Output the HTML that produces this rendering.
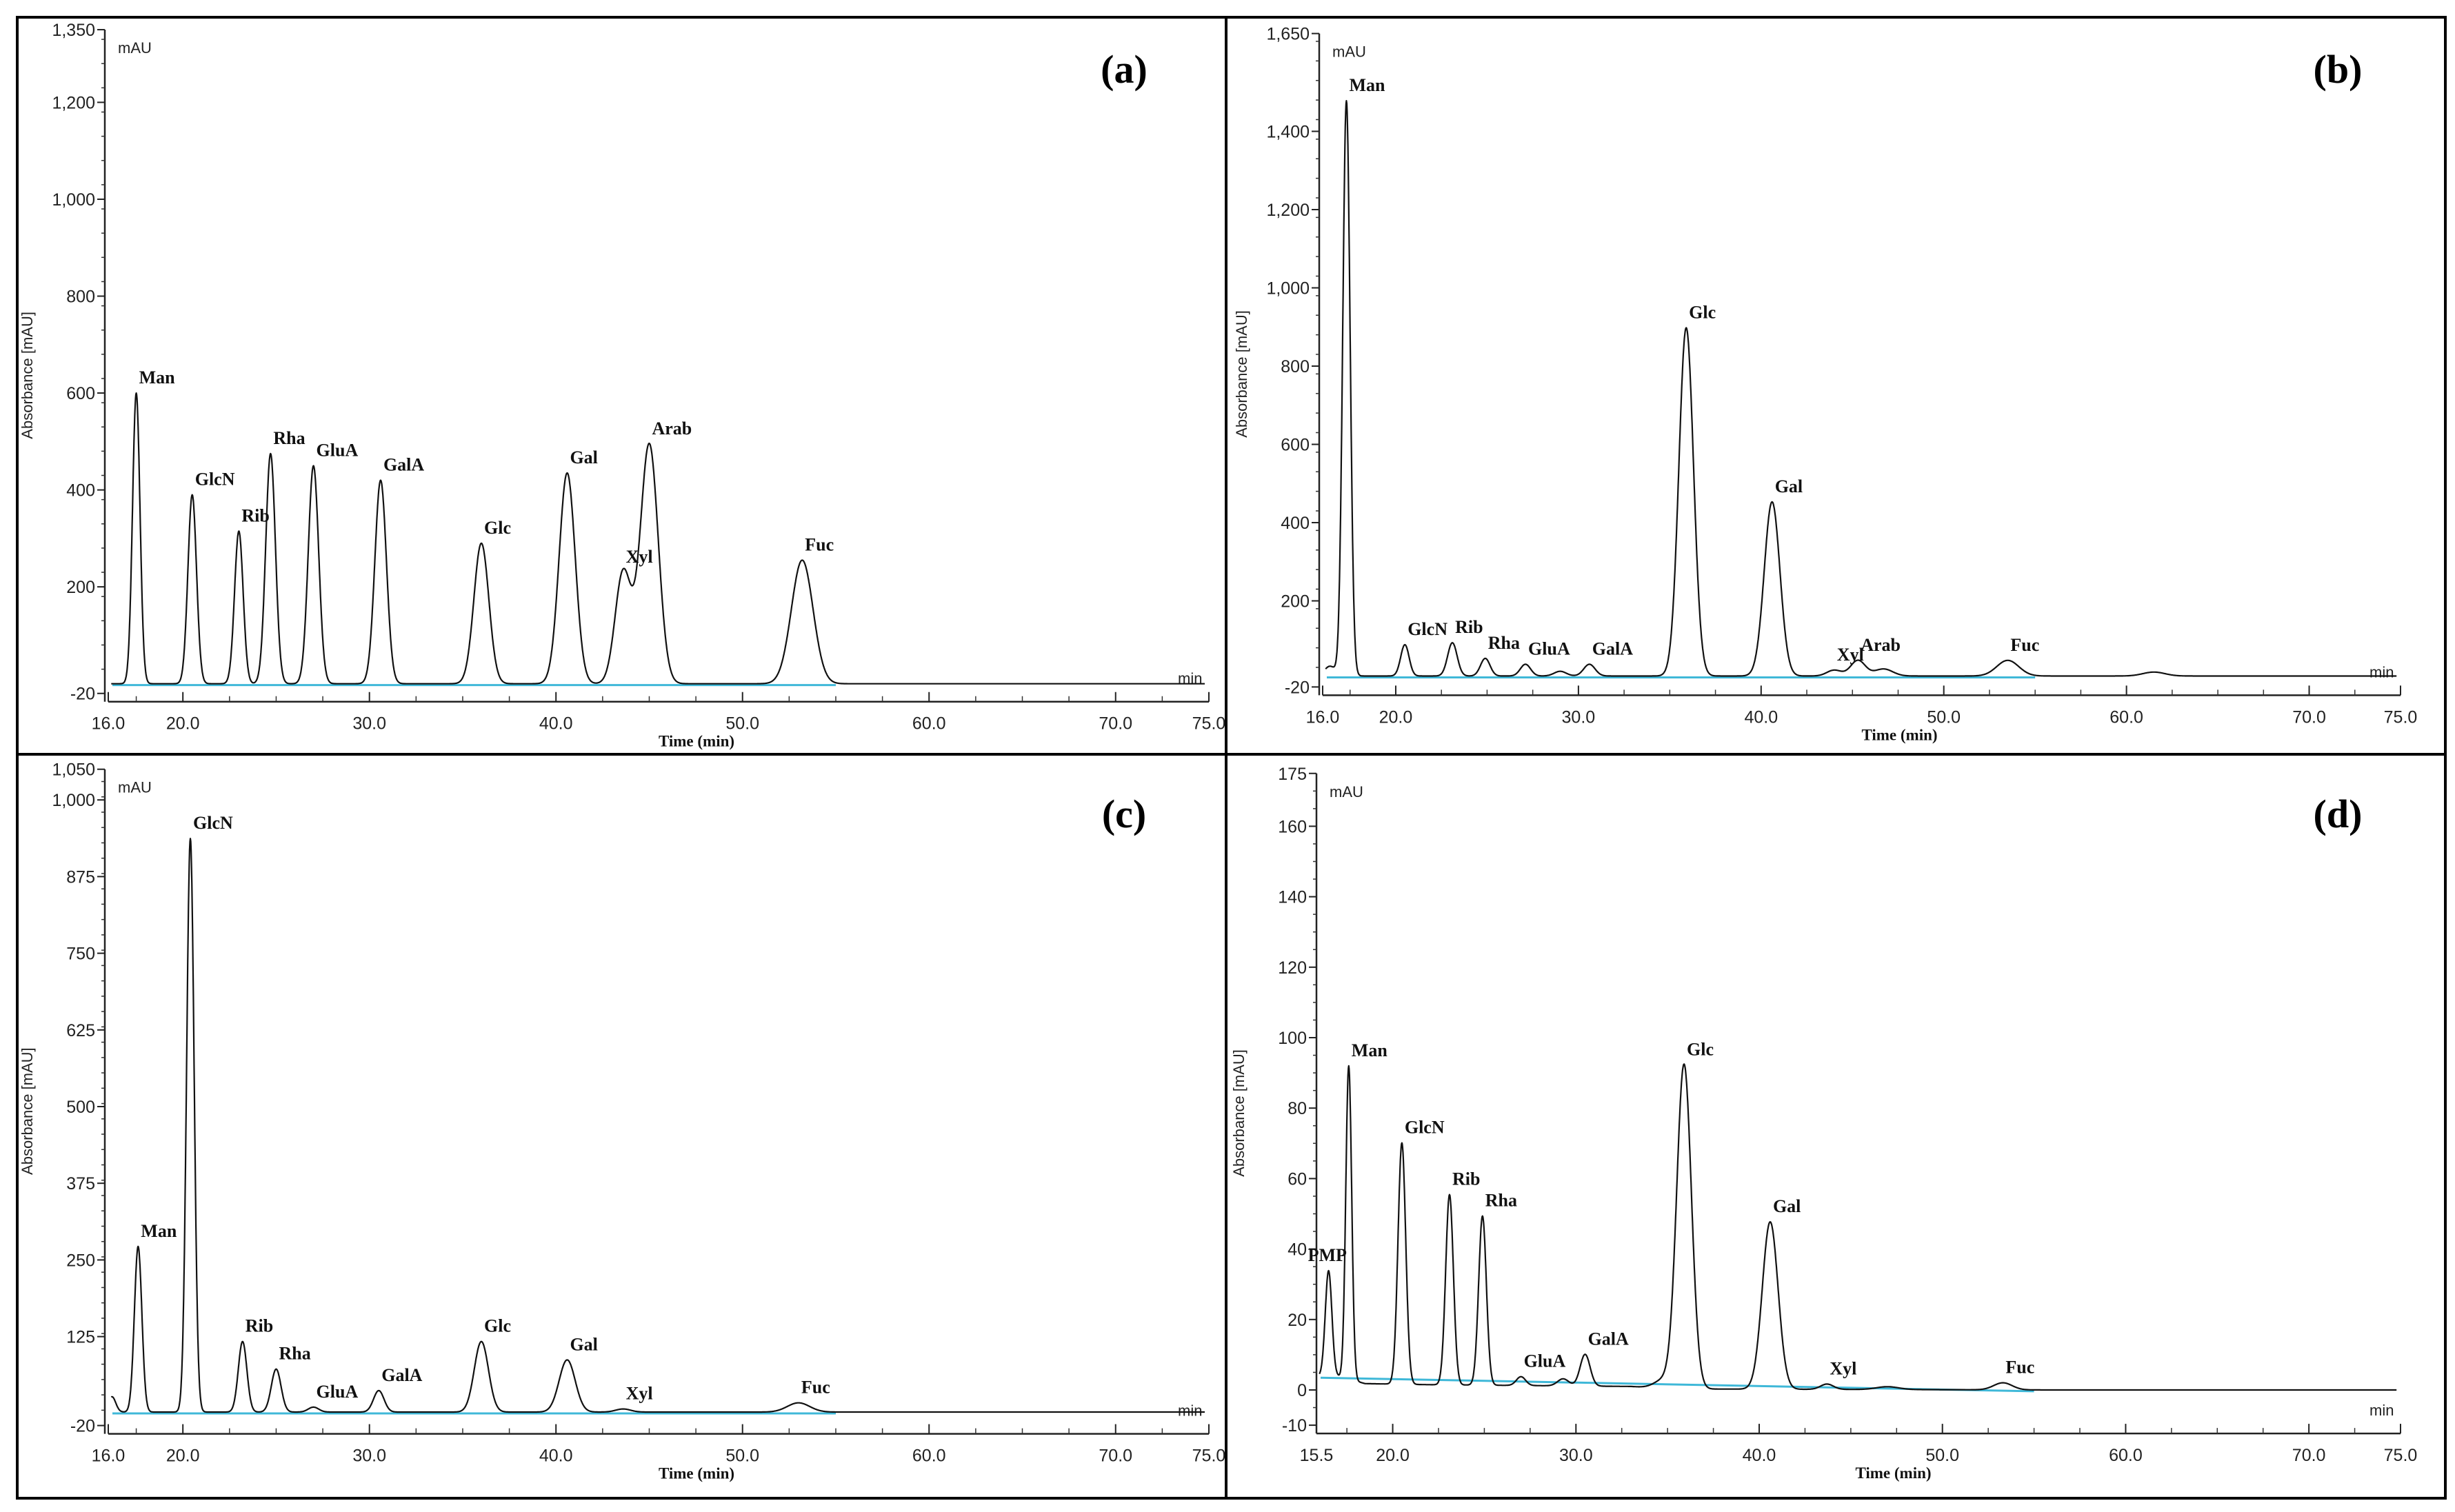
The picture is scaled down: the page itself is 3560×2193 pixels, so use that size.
<!DOCTYPE html>
<html><head><meta charset="utf-8">
<style>
html,body{margin:0;padding:0;background:#fff;}
svg{display:block;}
.tick{font-family:"Liberation Sans Narrow","Liberation Sans",sans-serif;font-size:25px;fill:#222;}
.ax{font-family:"Liberation Sans",sans-serif;font-size:22px;fill:#222;}
.pk{font-family:"Liberation Serif",serif;font-weight:bold;font-size:26px;fill:#111;}
.let{font-family:"Liberation Serif",serif;font-weight:bold;font-size:58px;fill:#000;}
.tt{font-family:"Liberation Serif",serif;font-weight:bold;font-size:23px;fill:#111;}
</style></head>
<body>
<svg id="fig" width="3560" height="2193" viewBox="0 0 3560 2193" xmlns="http://www.w3.org/2000/svg">
<rect x="0" y="0" width="3560" height="2193" fill="#fff"/>
<g id="frames" stroke="#000" stroke-width="4" fill="none">
<rect x="25" y="25" width="1753" height="1069"/>
<rect x="1778" y="25" width="1768" height="1069"/>
<rect x="25" y="1094" width="1753" height="1079"/>
<rect x="1778" y="1094" width="1768" height="1079"/>
</g>
</svg>
<script>
// ---- Panel (a) data ----
const aNames=["Man","GlcN","Rib","Rha","GluA","GalA","Glc","Gal","Xyl","Arab","Fuc"];
const aTimes=[17.5,20.5,23.0,24.7,27.0,30.6,36.0,40.6,43.6,45.0,53.2];
const aHeights=[600,390,315,475,450,420,290,435,230,495,255];
const aWidths=[0.2,0.23,0.23,0.26,0.28,0.31,0.4,0.43,0.43,0.48,0.58];
const aYTicks=[-20,200,400,600,800,1000,1200,1350];
// ---- Panel (b) data ----
const bNames=["","Man","GlcN","Rib","Rha","GluA","","GalA","Glc","Gal","Xyl","Arab","","Fuc",""];
const bTimes=[16.4,17.3,20.5,23.1,24.9,27.1,29.0,30.6,35.9,40.6,44.0,45.3,46.7,53.5,61.5];
const bHeights=[25,1470,80,85,45,30,12,30,890,445,15,40,18,40,10];
const bWidths=[0.3,0.2,0.23,0.26,0.26,0.28,0.33,0.31,0.4,0.43,0.4,0.4,0.5,0.6,0.6];
const bYTicks=[-20,200,400,600,800,1000,1200,1400,1650];
// ---- Panel (c) data ----
const cNames=["","Man","GlcN","Rib","Rha","GluA","GalA","Glc","Gal","Xyl","Fuc"];
const cTimes=[16.2,17.6,20.4,23.2,25.0,27.0,30.5,36.0,40.6,43.6,53.0];
const cHeights=[25,270,935,115,70,8,35,115,85,5,15];
const cWidths=[0.2,0.2,0.2,0.23,0.26,0.28,0.28,0.38,0.43,0.4,0.6];
const cYTicks=[-20,125,250,375,500,625,750,875,1000,1050];
// ---- Panel (d) data ----
const dNames=["PMP","Man","GlcN","Rib","Rha","GluA","","GalA","","Glc","Gal","Xyl","","Fuc"];
const dTimes=[16.5,17.6,20.5,23.1,24.9,27.0,29.3,30.5,34.8,35.9,40.6,43.7,47.0,53.3];
const dHeights=[30,89,68.5,54,48,2.5,2,9,2.5,92,47.5,1.5,0.8,2];
const dWidths=[0.18,0.16,0.21,0.21,0.21,0.25,0.3,0.27,0.5,0.4,0.43,0.35,0.6,0.5];
const dYTicks=[-10,0,20,40,60,80,100,120,140,160,175];
const dBaseT=[15.5,17.0,18.5,22,33,35,56,75];
const dBaseV=[4,3.8,1.8,1.5,1.0,0.3,0,0];
const abXTicks=[16,20,30,40,50,60,70,75];
const dXTicks=[15.5,20,30,40,50,60,70,75];

const NS="http://www.w3.org/2000/svg";
const svg=document.getElementById('fig');
function mk(tag,attrs,parent){const e=document.createElementNS(NS,tag);for(const k in attrs)e.setAttribute(k,attrs[k]);(parent||svg).appendChild(e);return e;}
function fmt(v){return v.toLocaleString('en-US');}

function panel(id,cfg,names,times,heights,widths,yTicks,xTicks,baseT,baseV){
  const g=mk('g',{});
  
  
  const X=t=>cfg.x0+(t-cfg.t0)/(cfg.t1-cfg.t0)*(cfg.x1-cfg.x0);
  const Y=v=>cfg.yRef-(v-cfg.vRef)*cfg.k;
  const ymin=yTicks[0], ymax=yTicks[yTicks.length-1];
  const axX=(cfg.axX!==undefined?cfg.axX:cfg.x0-5), axY=Y(ymin)+12;
  const xs=Math.max(X(cfg.t0),axX);
  const ya=mk('line',{x1:axX,y1:Y(ymax),x2:axX,y2:axY,stroke:'#222','stroke-width':2.5},g);
  
  
  for(let v=ymin; v<=ymax; v+=cfg.minor){
    mk('line',{x1:axX-5,y1:Y(v),x2:axX,y2:Y(v),stroke:'#333','stroke-width':1.5},g);
  }
  yTicks.forEach(v=>{
    mk('line',{x1:axX-11,y1:Y(v),x2:axX,y2:Y(v),stroke:'#222','stroke-width':2},g);
    const t=mk('text',{x:axX-14,y:Y(v)+9,'text-anchor':'end',class:'tick'},g);
    t.textContent=fmt(v);
    
    
  });
  const xa=mk('line',{x1:xs,y1:axY,x2:cfg.x1,y2:axY,stroke:'#222','stroke-width':2.5},g);
  
  
  for(let t=Math.ceil(cfg.t0/2.5)*2.5;t<=cfg.t1;t+=2.5){
    if(X(t)<xs) continue;
    mk('line',{x1:X(t),y1:axY,x2:X(t),y2:axY-8,stroke:'#333','stroke-width':1.5},g);
  }
  xTicks.forEach((t,i)=>{
    const px=Math.max(X(t),xs);
    mk('line',{x1:px,y1:axY,x2:px,y2:axY-14,stroke:'#222','stroke-width':2},g);
    const tx=mk('text',{x:px,y:axY+40,'text-anchor':'middle',class:'tick'},g);
    tx.textContent=t.toFixed(1);
    
    
  });
  const xt=mk('text',{x:(cfg.x0+cfg.x1)/2+55,y:axY+65,'text-anchor':'middle',class:'tt'},g);
  xt.textContent='Time (min)';
  
  
  const yt=mk('text',{x:0,y:0,'text-anchor':'middle',class:'ax',transform:`translate(${axX-105},${(Y(ymin)+Y(ymax))/2+20}) rotate(-90)`},g);
  yt.textContent='Absorbance [mAU]';
  
  
  const mau=mk('text',{x:axX+19,y:Y(ymax)+34,class:'ax'},g);
  mau.textContent='mAU';
  
  
  const mn=mk('text',{x:cfg.x1-45,y:Y(ymin)-14,class:'ax'},g);
  mn.textContent='min';
  
  
  const lt=mk('text',{x:cfg.letX,y:cfg.letY,'text-anchor':'middle',class:'let'},g);
  lt.textContent='('+id+')';
  
  
  const base=t=>{
    if(!baseT) return cfg.base;
    for(let i=0;i<baseT.length-1;i++){ if(t<=baseT[i+1]){const f=(t-baseT[i])/(baseT[i+1]-baseT[i]);return baseV[i]+f*(baseV[i+1]-baseV[i]);} }
    return baseV[baseV.length-1];
  };
  const cy=mk('line',{x1:xs+6,y1:Y(base(cfg.t0+1))+2,x2:X(cfg.cyanEnd),y2:Y(base(cfg.cyanEnd))+2,stroke:'#3fb8d8','stroke-width':3},g);
  
  
  let d='';
  for(let t=cfg.t0+0.1;t<=cfg.t1-0.2;t+=0.02){
    if(X(t)<xs+4) continue;
    let v=base(t);
    for(let i=0;i<times.length;i++){const z=(t-times[i])/widths[i];v+=heights[i]*Math.exp(-0.5*z*z);}
    d+=(d?'L':'M')+X(t).toFixed(1)+','+Y(v).toFixed(1);
  }
  const tr=mk('path',{d:d,fill:'none',stroke:'#111','stroke-width':2.2,'stroke-linejoin':'round'},g);
  
  
  names.forEach((n,i)=>{
    if(!n) return;
    const top=heights[i]+base(times[i]);
    const dx=(n==='PMP')?-30:4;
    const lb=mk('text',{x:X(times[i])+dx,y:Y(top)-14,class:'pk'},g);
    lb.textContent=n;
    
    
  });
}
panel('a',{x0:157,x1:1753,t0:16,t1:75,yRef:710.6,vRef:400,k:0.7027,minor:50,base:0,cyanEnd:55,letX:1630,letY:120},aNames,aTimes,aHeights,aWidths,aYTicks,abXTicks);
panel('b',{x0:1918,x1:3481,t0:16,t1:75,yRef:758,vRef:400,k:0.5675,minor:50,base:8,cyanEnd:55,letX:3390,letY:120},bNames,bTimes,bHeights,bWidths,bYTicks,abXTicks);
panel('c',{x0:157,x1:1753,t0:16,t1:75,yRef:1605,vRef:500,k:0.8896,minor:25,base:2,cyanEnd:55,letX:1630,letY:1200},cNames,cTimes,cHeights,cWidths,cYTicks,abXTicks);
panel('d',{x0:1900,x1:3481,t0:15.5,t1:75,axX:1909,yRef:2016,vRef:0,k:5.11,minor:5,base:0,cyanEnd:55,letX:3390,letY:1200},dNames,dTimes,dHeights,dWidths,dYTicks,dXTicks,dBaseT,dBaseV);
</script>
</body></html>
